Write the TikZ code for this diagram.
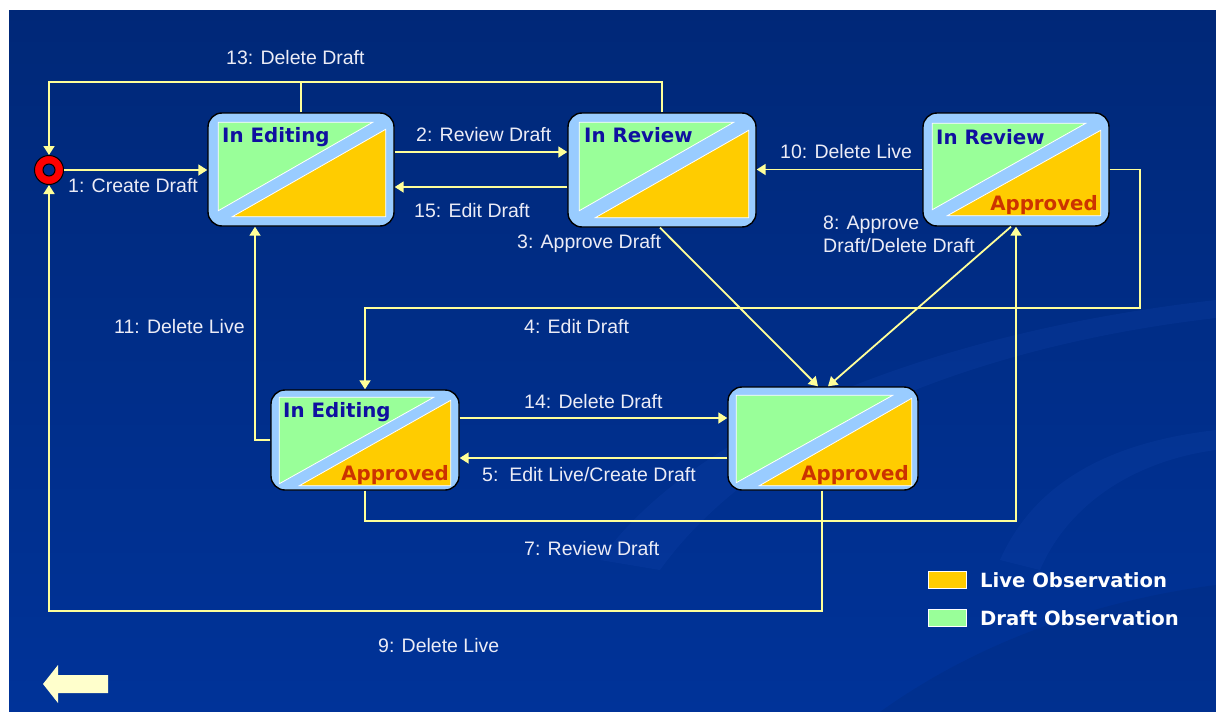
\documentclass[tikz,border=0pt]{standalone}
\usepackage{fontspec}
\newfontfamily\labfont{Liberation Sans}
\newfontfamily\boldfont{DejaVu Sans}
\usetikzlibrary{arrows.meta}
\definecolor{bgtop}{RGB}{0,40,120}
\definecolor{bgbot}{RGB}{0,51,153}
\definecolor{linecol}{RGB}{255,255,153}
\definecolor{boxblue}{RGB}{153,204,255}
\definecolor{drafty}{RGB}{153,255,153}
\definecolor{livey}{RGB}{255,204,0}
\definecolor{titlec}{RGB}{16,16,160}
\definecolor{apprc}{RGB}{204,51,0}
\definecolor{labc}{RGB}{236,236,246}
\definecolor{backc}{RGB}{255,255,204}
\definecolor{swirlc}{RGB}{20,70,175}
\definecolor{holec}{RGB}{0,45,140}
\tikzset{
 conn/.style={draw=linecol, line width=1.8pt, -{Triangle[length=9pt,width=11pt]}},
 plain/.style={draw=linecol, line width=1.8pt},
 statebox/.style={draw=black, line width=1.4pt, fill=boxblue, rounded corners=14pt, inner sep=0pt},
 lbl/.style={text=labc, font=\labfont\fontsize{19.5}{23}\selectfont, inner sep=0pt, anchor=base west},
 ttl/.style={text=titlec, font=\boldfont\bfseries\fontsize{19.8}{22}\selectfont, inner sep=0pt, anchor=base west},
 appr/.style={text=apprc, font=\boldfont\bfseries\fontsize{19.8}{22}\selectfont, inner sep=0pt, anchor=base east},
 lgt/.style={text=white, font=\boldfont\bfseries\fontsize{19.6}{22}\selectfont, inner sep=0pt, anchor=base west},
 swatch/.style={draw=white, line width=0.8pt, minimum width=38pt, minimum height=17pt, inner sep=0pt},
 tri/.style={draw=white, line width=0.8pt},
}
% name, gl, gt, gr, gb, or, ot, ob, ol
\newcommand\triangs[9]{%
 \filldraw[tri, fill=drafty] ([shift={(#2,#3)}]#1.north west) -- ([shift={(-#4,#3)}]#1.north east) -- ([shift={(#2,-#5)}]#1.south west) -- cycle;
 \filldraw[tri, fill=livey] ([shift={(-#6,#7)}]#1.north east) -- ([shift={(-#6,-#8)}]#1.south east) -- ([shift={(#9,-#8)}]#1.south west) -- cycle;
}
\begin{document}
\begin{tikzpicture}[x=1pt,y=-1pt]
\useasboundingbox (0,0) rectangle (1216,712);
\fill[white] (0,0) rectangle (1216,712);
\shade[top color=bgtop, bottom color=bgbot] (9,10) rectangle (1216,712);
% faint swirl
\fill[swirlc, opacity=0.22] (600,560) .. controls (700,420) and (950,330) .. (1216,300) -- (1216,318) .. controls (980,345) and (760,430) .. (660,570) -- cycle;
\fill[swirlc, opacity=0.22] (1000,560) .. controls (1040,470) and (1130,440) .. (1216,430) -- (1216,450) .. controls (1140,460) and (1070,500) .. (1040,570) -- cycle;
\fill[black, opacity=0.06] (880,712) .. controls (980,640) and (1100,600) .. (1216,585) -- (1216,712) -- cycle;

% state boxes
\node[statebox, minimum width=186pt, minimum height=113pt] (b1) at (301,169.5) {};
\node[statebox, minimum width=188pt, minimum height=114pt] (b2) at (662,170) {};
\node[statebox, minimum width=186pt, minimum height=113pt] (b3) at (1016,169.5) {};
\node[statebox, minimum width=188pt, minimum height=100pt] (b4) at (365,440) {};
\node[statebox, minimum width=190pt, minimum height=103pt] (b5) at (823,438.5) {};
\triangs{b1}{11}{10}{22}{16}{9}{17}{10}{25}
\triangs{b2}{12}{10}{23}{17}{8}{18}{10}{28}
\triangs{b3}{10}{11}{24}{17}{9}{18}{11}{25}
\triangs{b4}{9}{8}{26}{7}{9}{11}{5}{29}
\triangs{b5}{9}{9}{26}{8}{7}{12}{5}{32}
\node[ttl] (t1) at (222,142) {In Editing};
\node[ttl] (t2) at (584,142) {In Review};
\node[ttl] (t3) at (936,144) {In Review};
\node[ttl] (t4) at (283,417) {In Editing};
\node[appr] (a3) at (1098,210) {Approved};
\node[appr] (a4) at (449,480) {Approved};
\node[appr] (a5) at (909,480) {Approved};

% start state
\node[circle, draw=black, line width=1pt, fill=red, minimum size=29pt, inner sep=0pt] (start) at (49,170) {};
\draw[black, line width=1pt, fill=holec] (start.center) circle[radius=6pt];

% waypoints
\coordinate (c13) at (0,82);
\coordinate (c4) at (1140,308);
\coordinate (c7) at (0,521);
\coordinate (c9) at (0,611);

% connectors
\draw[conn] (start.east) -- (start -| b1.west);
\draw[conn] ([yshift=17.5pt]b1.east) -- ([yshift=17.5pt]b1.east -| b2.west);
\draw[conn] ([yshift=-17pt]b2.west) -- ([yshift=-17pt]b2.west -| b1.east);
\draw[plain] (b1.north) -- (b1.north |- c13);
\draw[conn] (b2.north) -- (b2.north |- c13) -| (start.north);
\draw[conn] (b3.west) -- (b3.west -| b2.east);
\draw[conn] ([xshift=-2pt]b2.south) -- ([xshift=-5pt]b5.north);
\draw[conn] ([xshift=-5pt]b3.south) -- ([xshift=5pt]b5.north);
\draw[conn] (b3.east) -| (c4) -| (b4.north);
\draw[conn] (b4.west) -| ([xshift=-46pt]b1.south);
\draw[conn] ([yshift=22pt]b4.east) -- ([yshift=22pt]b4.east -| b5.west);
\draw[conn] ([yshift=-19.5pt]b5.west) -- ([yshift=-19.5pt]b5.west -| b4.east);
\draw[conn] (b4.south) -- (b4.south |- c7) -| (b3.south);
\draw[conn] ([xshift=-1pt]b5.south) -- ([xshift=-1pt]b5.south |- c9) -| (start.south);

% labels
\node[lbl] (l13) at (226,64) {13: Delete Draft};
\node[lbl] (l1) at (68,192) {1: Create Draft};
\node[lbl] (l2) at (416,141) {2: Review Draft};
\node[lbl] (l15) at (414,217) {15: Edit Draft};
\node[lbl] (l10) at (780,158) {10: Delete Live};
\node[lbl] (l3) at (517,248) {3: Approve Draft};
\node[lbl, anchor=north west, align=left] (l8) at (823,216) {8: Approve\\Draft/Delete Draft};
\node[lbl] (l4) at (524,333) {4: Edit Draft};
\node[lbl] (l11) at (114,333) {11: Delete Live};
\node[lbl] (l14) at (524,408) {14: Delete Draft};
\node[lbl] (l5) at (482,481) {5:\ \ Edit Live/Create Draft};
\node[lbl] (l7) at (524,555) {7: Review Draft};
\node[lbl] (l9) at (378,652) {9: Delete Live};

% legend
\node[swatch, fill=livey] (sw1) at (947,580) {};
\node[swatch, fill=drafty] (sw2) at (947,617.5) {};
\node[lgt] (lg1) at (980,587) {Live Observation};
\node[lgt] (lg2) at (980,625) {Draft Observation};

% back arrow
\fill[backc] (43,684) -- (58,665) -- (58,675) -- (108,675) -- (108,693) -- (58,693) -- (58,703) -- cycle;
\end{tikzpicture}
\end{document}
